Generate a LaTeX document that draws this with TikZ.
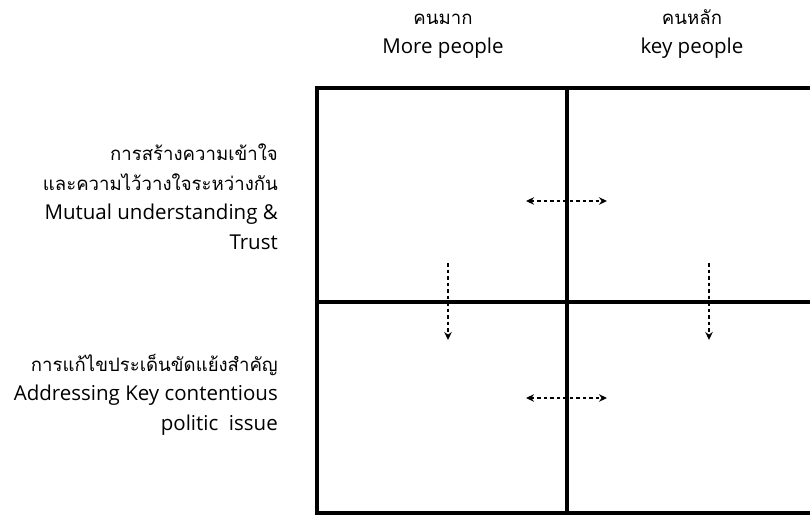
\documentclass[tikz,border=0pt]{standalone}
\usepackage{fontspec}
\usetikzlibrary{arrows.meta}
\setmainfont{Open Sans}
\newfontfamily\thaifont[Script=Thai]{Loma}
\newcommand\thai[1]{{\thaifont\fontsize{18.6}{29.5}\selectfont #1}}

\begin{document}
\begin{tikzpicture}[x=1pt,y=-1pt,every node/.style={inner sep=0pt,font=\fontsize{20.5}{29.5}\selectfont},
grid/.style={line width=3.2pt},
link/.style={dash pattern=on 3.5pt off 3pt,line width=1.5pt}]
\useasboundingbox (0,0) rectangle (810,516);
\draw[grid] (815,88) -- (317,88) -- (317,513) -- (815,513);
\draw[grid] (567,88) -- (567,513);
\draw[grid] (317,302) -- (815,302);
\node[align=center,anchor=base](more) at (443,54){\thai{คนมาก}\\More people} ;
\node[align=center,anchor=base](key) at (692,54){\thai{คนหลัก}\\key people} ;
\node[align=right,anchor=base east](trust) at (278,249){\thai{การสร้างความเข้าใจ}\\\thai{และความไว้วางใจระหว่างกัน}\\Mutual understanding \&\\Trust} ;
\node[align=right,anchor=base east](issue) at (278,430){\thai{การแก้ไขประเด็นขัดแย้งสำคัญ}\\Addressing Key contentious\\politic\ \ issue} ;
\coordinate(tl) at (526,201) ;
\coordinate(tr) at (607,201) ;
\coordinate(bl) at (526,398) ;
\coordinate(br) at (607,398) ;
\coordinate(ls) at (448,263) ;
\coordinate(le) at (448,340) ;
\coordinate(rs) at (709,263) ;
\coordinate(re) at (709,340) ;
\draw[link,{Stealth[length=8pt,width=7.5pt]}-{Stealth[length=8pt,width=7.5pt]}](tl) -- (tr);
\draw[link,{Stealth[length=8pt,width=7.5pt]}-{Stealth[length=8pt,width=7.5pt]}](bl) -- (br);
\draw[link,-{Stealth[length=8pt,width=7.5pt]}](ls) -- (le);
\draw[link,-{Stealth[length=8pt,width=7.5pt]}](rs) -- (re);
\end{tikzpicture}
\end{document}
